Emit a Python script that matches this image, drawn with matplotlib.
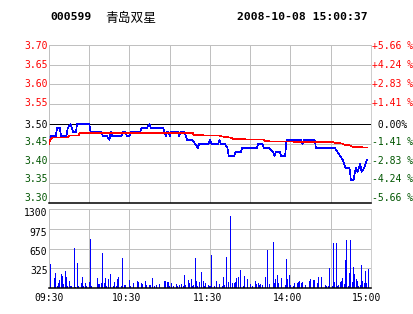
import matplotlib
matplotlib.use("Agg")
import matplotlib.pyplot as plt

# header
CODE = "000599"
NAME = "青岛双星"
STAMP = "2008-10-08 15:00:37"

PREV_CLOSE = 3.50
PCT_STEP = 0.01415  # one grid step = 1.41 %

PRICE_LABELS = ["3.70", "3.65", "3.60", "3.55", "3.50", "3.45", "3.40", "3.35", "3.30"]
PCT_LABELS = ["+5.66 %", "+4.24 %", "+2.83 %", "+1.41 %", " 0.00%",
              "-1.41 %", "-2.83 %", "-4.24 %", "-5.66 %"]
VOL_TICKS = [0, 325, 650, 975, 1300]
VOL_LABELS = ["1300", "975", "650", "325"]
TIME_LABELS = ["09:30", "10:30", "11:30", "14:00", "15:00"]

# minute index (0 = 09:30, 120 = 11:30/13:00, 240 = 15:00) and last price
PRICE_MIN = [0, 1, 5, 6, 8, 9, 13, 14, 16, 17,
             18, 20, 21, 30, 31, 39, 40, 43, 45, 46,
             47, 54, 55, 57, 58, 60, 61, 68, 69, 73,
             75, 76, 85, 86, 87, 88, 89, 90, 91, 96,
             97, 98, 101, 102, 103, 107, 109, 111, 112, 119,
             120, 121, 126, 127, 128, 131, 133, 134, 138, 139,
             143, 144, 155, 156, 159, 160, 164, 167, 168, 169,
             172, 173, 176, 177, 188, 189, 190, 198, 199, 213,
             215, 217, 219, 220, 221, 224, 225, 227, 228, 229,
             230, 231, 232, 233, 235, 237]
PRICE = [3.45, 3.47, 3.47, 3.49, 3.49, 3.47, 3.47, 3.49, 3.50, 3.49,
         3.48, 3.48, 3.50, 3.50, 3.48, 3.48, 3.47, 3.47, 3.46, 3.48,
         3.47, 3.47, 3.48, 3.48, 3.47, 3.47, 3.48, 3.48, 3.49, 3.49,
         3.50, 3.49, 3.49, 3.48, 3.47, 3.48, 3.48, 3.47, 3.48, 3.48,
         3.47, 3.48, 3.48, 3.47, 3.46, 3.46, 3.45, 3.44, 3.45, 3.45,
         3.46, 3.45, 3.45, 3.46, 3.45, 3.45, 3.44, 3.42, 3.42, 3.43,
         3.43, 3.44, 3.44, 3.45, 3.45, 3.44, 3.44, 3.43, 3.42, 3.43,
         3.43, 3.42, 3.42, 3.46, 3.46, 3.45, 3.46, 3.46, 3.44, 3.44,
         3.43, 3.42, 3.41, 3.40, 3.39, 3.39, 3.36, 3.36, 3.38, 3.39,
         3.38, 3.39, 3.40, 3.38, 3.39, 3.41]

# average price line
AVG_MIN = [0, 1, 3, 14, 15, 22, 23, 107, 108, 127, 128, 130, 135, 138,
           160, 161, 166, 211, 213, 219, 220, 224, 226, 237]
AVG = [3.450, 3.462, 3.466, 3.466, 3.471, 3.471, 3.478, 3.478, 3.472, 3.471,
       3.470, 3.468, 3.466, 3.462, 3.461, 3.458, 3.456, 3.455, 3.453, 3.451,
       3.448, 3.447, 3.443, 3.441]

# volume per minute (only minutes with a visible bar)
VOL_MIN = [1, 4, 5, 6, 7, 8, 9, 10, 11, 12, 13, 14, 15, 16, 17, 19, 20, 21, 22,
           24, 25, 26, 27, 28, 30, 31, 32, 36, 37, 38, 39, 40, 41, 42, 43, 44,
           46, 48, 49, 50, 51, 52, 54, 55, 56, 57, 60, 61, 63, 66, 67, 69, 70,
           72, 73, 75, 76, 77, 79, 80, 82, 86, 87, 88, 89, 90, 91, 93, 95, 96,
           97, 99, 100, 101, 102, 104, 105, 106, 107, 108, 109, 110, 111, 112,
           114, 115, 116, 117, 119, 120, 121,
           123, 125, 127, 129, 130, 131, 132, 134, 135, 137, 138, 139, 140, 141,
           143, 145, 146, 148, 150, 152, 154, 155, 156, 157, 158, 159, 161, 163,
           164, 167, 168, 169, 170, 171, 173, 176, 177, 178, 179, 180, 182, 183,
           185, 186, 187, 188, 189, 191, 194, 195, 197, 198, 200, 201, 203, 206,
           207, 208, 209, 211, 212, 213, 214, 215, 216, 217, 218, 219, 220, 221,
           222, 223, 224, 225, 226, 227, 228, 229, 230, 231, 232, 233, 234, 235,
           236, 237, 238]
VOL = [389, 170, 241, 33, 77, 132, 225, 197, 66, 280, 181, 33, 115, 33, 33, 658, 16, 406, 33,
       82, 181, 33, 77, 33, 99, 806, 33, 165, 71, 71, 77, 576, 77, 165, 33, 154,
       230, 33, 99, 33, 148, 181, 33, 494, 50, 50, 132, 33, 82, 115, 99, 77, 66,
       115, 55, 50, 44, 165, 33, 50, 66, 115, 115, 104, 99, 33, 77, 33, 66, 33,
       50, 66, 33, 214, 50, 137, 77, 148, 33, 50, 494, 115, 33, 99,
       269, 115, 33, 77, 55, 33, 543,
       33, 115, 66, 33, 181, 50, 516, 99, 1190, 82, 82, 99, 170, 186,
       296, 33, 197, 148, 66, 33, 110, 60, 82, 50, 66, 55, 186, 631,
       66, 757, 82, 148, 214, 77, 170, 50, 483, 148, 214, 50, 33, 77,
       82, 99, 115, 82, 99, 50, 115, 148, 132, 132, 82, 181, 181, 44,
       33, 33, 329, 33, 740, 99, 740, 33, 50, 99, 115, 165, 66, 461,
       790, 33, 247, 790, 99, 346, 230, 148, 115, 33, 50, 378, 115, 82,
       280, 77, 313]

UP = "#ff0000"
DOWN = "#005500"
GRID = "#c0c0c0"
MONO = "DejaVu Sans Mono"
THIN = 0.55  # about one device pixel
LINE = 0.45

W, H = 414, 314


def fx(px):
    return px / W


def fy(py):
    return 1 - py / H


def style_panel(ax):
    ax.set_xlim(0, 240)
    ax.set_xticks(range(0, 241, 30))
    ax.tick_params(length=0, labelleft=False, labelbottom=False)
    ax.grid(True, color=GRID, lw=THIN, antialiased=False)
    ax.set_axisbelow(True)
    for side in ("left", "right", "top"):
        ax.spines[side].set_color(GRID)
        ax.spines[side].set_linewidth(THIN)
    ax.spines["bottom"].set_color("black")
    ax.spines["bottom"].set_linewidth(1.1)


fig = plt.figure(figsize=(W / 100, H / 100), dpi=100)
fig.patch.set_facecolor("white")

ax_p = fig.add_axes([fx(49), fy(203), 322 / W, 158 / H])
ax_v = fig.add_axes([fx(49), fy(288), 322 / W, 79 / H])

# price panel
lo = PREV_CLOSE * (1 - 4 * PCT_STEP)
hi = PREV_CLOSE * (1 + 4 * PCT_STEP)
ax_p.set_ylim(lo, hi)
ax_p.set_yticks([PREV_CLOSE * (1 + k * PCT_STEP) for k in range(-4, 5)])
style_panel(ax_p)
ax_p.axhline(PREV_CLOSE, color="black", lw=THIN, zorder=1.5, antialiased=False)
ax_p.plot(PRICE_MIN, PRICE, color="#0000ff", lw=LINE, antialiased=False, zorder=2)
ax_p.plot(AVG_MIN, AVG, color="#ff0000", lw=LINE, antialiased=False, zorder=3)

# volume panel
ax_v.set_ylim(0, 1300)
ax_v.set_yticks(VOL_TICKS)
style_panel(ax_v)
ax_v.bar(VOL_MIN, VOL, width=0.75, color="#0000ff", linewidth=0, antialiased=False)

# header text
fig.text(fx(50), fy(20), CODE, family=MONO, weight="bold", fontsize=8.2, va="baseline")
fig.text(fx(105), fy(21.5), NAME, family=["Noto Sans CJK SC", "DejaVu Sans"],
         fontsize=9.2, va="baseline")
fig.text(fx(237.5), fy(20), STAMP, family=MONO, weight="bold", fontsize=8.2, va="baseline")

# axis labels (pixel rows of the label centres)
label_rows = [45.5, 64.2, 83.3, 102.4, 124.3, 141.6, 160.5, 179.0, 197.7]
for i, (row, txt, pct) in enumerate(zip(label_rows, PRICE_LABELS, PCT_LABELS)):
    color = UP if i < 4 else ("black" if i == 4 else DOWN)
    fig.text(fx(47.5), fy(row + 3.5), txt, family=MONO, fontsize=7,
             ha="right", va="baseline", color=color)
    fig.text(fx(372), fy(row + 3.5), pct, family=MONO, fontsize=7,
             ha="left", va="baseline", color=color)

vol_rows = [213.0, 232.3, 251.7, 270.7]
for row, txt in zip(vol_rows, VOL_LABELS):
    fig.text(fx(47.5), fy(row + 3.5), txt, family=MONO, fontsize=7,
             ha="right", va="baseline")

time_cols = [49, 127, 208, 288, 367]
for col, txt in zip(time_cols, TIME_LABELS):
    fig.text(fx(col), fy(301), txt, family=MONO, fontsize=7, ha="center", va="baseline")

fig.savefig("out.png", dpi=100)
plt.close(fig)
